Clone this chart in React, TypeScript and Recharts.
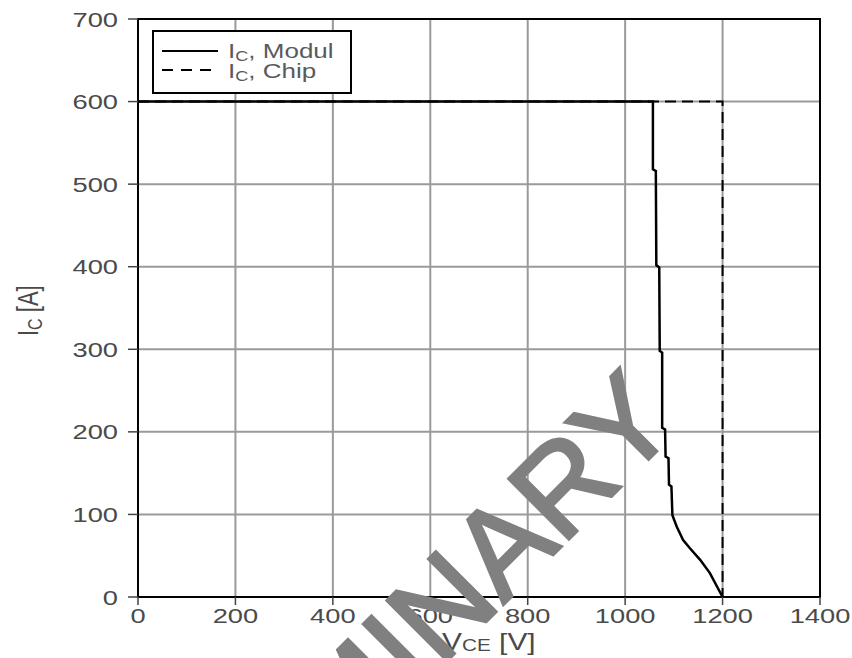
import React from 'react'
import {
  LineChart,
  Line,
  XAxis,
  YAxis,
  CartesianGrid,
  Legend,
  ReferenceArea,
  Label,
} from 'recharts'

// collector-emitter voltage [V] / collector current [A]
const xTicks = [0, 200, 400, 600, 800, 1000, 1200, 1400]
const yTicks = [0, 100, 200, 300, 400, 500, 600, 700]

const modulVce = [0, 1057, 1057, 1063, 1064, 1070, 1071, 1076, 1076, 1082, 1083, 1089, 1090, 1095, 1097, 1106, 1119, 1133, 1154, 1174, 1200]
const modulIc = [600, 600, 518, 516, 402, 399, 298, 296, 205, 203, 170, 168, 136, 134, 99, 85, 69, 59, 45, 29, 0]

const chipVce = [0, 1200, 1200]
const chipIc = [600, 600, 0]

const modulData = modulVce.map((v, i) => ({ vce: v, ic: modulIc[i] }))
const chipData = chipVce.map((v, i) => ({ vce: v, ic: chipIc[i] }))

const FONT = '"Liberation Sans", Arial, sans-serif'
const SX = 1.3 // text in this plot is drawn wide
const TEXT = '#4a4a4a'

const XTick = ({ x, y, payload }: any) => (
  <text
    transform={`translate(${x},${y + 16}) scale(${SX},1)`}
    textAnchor="middle"
    fontFamily={FONT}
    fontSize={21}
    fill={TEXT}
  >
    {payload.value}
  </text>
)

const YTick = ({ x, y, payload }: any) => (
  <text
    transform={`translate(${x},${y + 7.5}) scale(${SX},1)`}
    textAnchor="end"
    fontFamily={FONT}
    fontSize={21}
    fill={TEXT}
  >
    {payload.value}
  </text>
)

const YTitle = ({ viewBox }: any) => (
  <text
    transform={`translate(38,${viewBox.y + viewBox.height / 2 + 28}) scale(${SX},1) rotate(-90)`}
    fontFamily={FONT}
    fontSize={22}
    fill={TEXT}
  >
    I
    <tspan fontSize={16} dy={3}>C</tspan>
    <tspan fontSize={22} dy={-3}> [A]</tspan>
  </text>
)

const XTitle = () => (
  <text
    transform={`translate(442,650) scale(${SX},1)`}
    fontFamily={FONT}
    fontSize={23}
    fill={TEXT}
  >
    V
    <tspan fontSize={16} dy={1}>CE</tspan>
    <tspan fontSize={23} dy={-1}>{'  [V]'}</tspan>
  </text>
)

const LegendBox = () => (
  <svg width={200} height={64}>
    <rect x={1} y={1} width={198} height={62} fill="#fff" stroke="#000" strokeWidth={2} />
    <line x1={10} x2={66} y1={21} y2={21} stroke="#000" strokeWidth={2} />
    <line x1={10} x2={66} y1={40} y2={40} stroke="#000" strokeWidth={2} strokeDasharray="11 8" />
    <g fontFamily={FONT} fontSize={20} fill="#5a5a5a">
      <text transform={`translate(76,28) scale(${SX},1)`}>
        I<tspan fontSize={14} dy={3}>C</tspan>
        <tspan dy={-3} fontSize={20}>, Modul</tspan>
      </text>
      <text transform={`translate(76,48) scale(${SX},1)`}>
        I<tspan fontSize={14} dy={3}>C</tspan>
        <tspan dy={-3} fontSize={20}>, Chip</tspan>
      </text>
    </g>
  </svg>
)

export default function App() {
  return (
    <div style={{ position: 'absolute', left: 0, top: 0, width: 852, height: 658, background: '#fff' }}>
      <LineChart
        width={852}
        height={658}
        margin={{ top: 19, right: 32, bottom: 31, left: 0 }}
      >
        <CartesianGrid stroke="#9a9a9a" strokeWidth={2} />
        <XAxis
          dataKey="vce"
          type="number"
          domain={[0, 1400]}
          ticks={xTicks}
          height={30}
          tickSize={8}
          tickMargin={2}
          tick={<XTick />}
          axisLine={{ stroke: '#000', strokeWidth: 2 }}
          tickLine={{ stroke: '#444', strokeWidth: 1.5 }}
        >
          <Label content={<XTitle />} />
        </XAxis>
        <YAxis
          type="number"
          domain={[0, 700]}
          ticks={yTicks}
          width={138}
          tickSize={10}
          tickMargin={10}
          tick={<YTick />}
          axisLine={{ stroke: '#000', strokeWidth: 2 }}
          tickLine={{ stroke: '#444', strokeWidth: 1.5 }}
        >
          <Label content={<YTitle />} />
        </YAxis>
        <ReferenceArea x1={0} x2={1400} y1={0} y2={700} fill="none" stroke="#000" strokeWidth={2} />
        <Line
          data={chipData}
          dataKey="ic"
          name="IC, Chip"
          type="linear"
          stroke="#000"
          strokeWidth={2}
          strokeDasharray="11 6"
          dot={false}
          isAnimationActive={false}
        />
        <Line
          data={modulData}
          dataKey="ic"
          name="IC, Modul"
          type="linear"
          stroke="#000"
          strokeWidth={2.5}
          dot={false}
          isAnimationActive={false}
        />
        <Legend
          layout="horizontal"
          verticalAlign="middle"
          align="center"
          content={<LegendBox />}
          wrapperStyle={{ left: 152, top: 30, width: 200, height: 64 }}
        />
      </LineChart>
      <svg
        width={852}
        height={658}
        style={{ position: 'absolute', left: 0, top: 0, pointerEvents: 'none' }}
      >
        <text
          transform="translate(682,426) rotate(-45)"
          textAnchor="end"
          fontFamily={FONT}
          fontSize={124}
          fill="#808080"
          stroke="#808080"
          strokeWidth={3}
          strokeLinejoin="miter"
        >
          PRELIMINARY
        </text>
      </svg>
    </div>
  )
}
